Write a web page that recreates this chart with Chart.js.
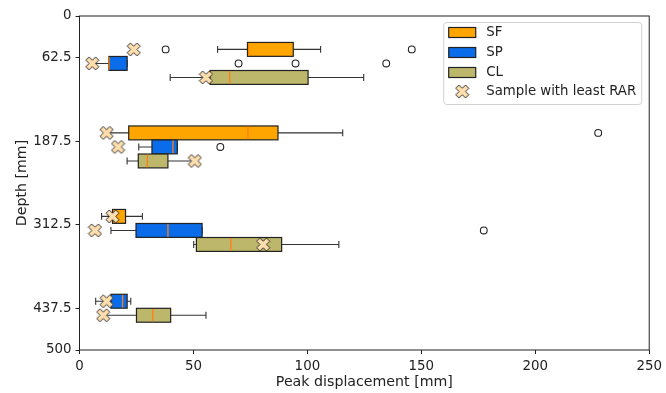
<!DOCTYPE html>
<html>
<head>
<meta charset="utf-8">
<script src="https://cdn.jsdelivr.net/npm/chart.js@4.4.0/dist/chart.umd.min.js"></script>
<style>
    html, body { margin: 0; padding: 0; background: #fff; }
    #wrap { width: 666px; height: 393px; }
</style>
</head>
<body>
<div id="wrap"><canvas id="chart" width="666" height="393"></canvas></div>
<script>
/* ============================================
   Peak displacement box plot
   ============================================ */

const depthTicks = [0, 62.5, 187.5, 312.5, 437.5, 500];
const seriesNames = ['SF', 'SP', 'CL'];
const leastLabel = 'Sample with least RAR';

// box centre depth [mm]
const sfDepth = [50, 175, 300];
const spDepth = [71, 196, 321, 427];
const clDepth = [92, 217, 342, 448];

// [lower whisker, q1, median, q3, upper whisker] in mm
const sfStats = [
    [60.6, 73.7, 74.2, 93.8, 105.8],
    [11.9, 21.6, 73.9, 87.1, 115.5],
    [9.7, 14.5, 16.0, 20.2, 27.6]
];
const spStats = [
    [5.6, 12.9, 13.0, 20.9, 20.9],
    [26.0, 31.8, 41.0, 42.9, 42.9],
    [13.8, 24.8, 38.8, 53.8, 53.8],
    [7.1, 13.8, 18.9, 20.9, 22.5]
];
const clStats = [
    [39.8, 57.3, 65.9, 100.3, 124.7],
    [20.9, 25.8, 29.8, 38.8, 50.6],
    [50.1, 51.3, 66.4, 88.7, 113.8],
    [10.4, 25.0, 32.2, 40.0, 55.5]
];

// fliers [displacement, depth]
const sfOutliers = [[37.8, 50], [145.8, 50], [227.6, 175]];
const spOutliers = [[69.8, 71], [94.8, 71], [134.6, 71], [61.8, 196], [177.4, 321]];

// sample with least RAR [displacement, depth]
const sfLeast = [[23.8, 50], [11.9, 175], [14.5, 300]];
const spLeast = [[5.6, 71], [16.9, 196], [6.8, 321], [11.9, 427]];
const clLeast = [[55.5, 92], [50.6, 217], [80.6, 342], [10.4, 448]];

const colors = { SF: '#FFA500', SP: '#0A6CE8', CL: '#BDB76B' };
const medianColor = '#FF7F0E';
const markerFill = '#FFDEAD';
const BOX_W = 20.8;
const FONT = "'DejaVu Sans', sans-serif";

const series = [
    { name: 'SF', depth: sfDepth, stats: sfStats },
    { name: 'SP', depth: spDepth, stats: spStats },
    { name: 'CL', depth: clDepth, stats: clStats }
];

const toPoints = arr => arr.map(p => ({ x: p[0], y: p[1] }));

// filled "X" marker like matplotlib
function makeCross(size) {
    const c = document.createElement('canvas');
    c.width = size + 2;
    c.height = size + 2;
    const g = c.getContext('2d');
    const pts = [[-1, -2], [0, -1], [1, -2], [2, -1], [1, 0], [2, 1],
                 [1, 2], [0, 1], [-1, 2], [-2, 1], [-1, 0], [-2, -1]];
    const cx = c.width / 2, cy = c.height / 2;
    g.beginPath();
    pts.forEach((p, i) => {
        const px = cx + p[0] / 4 * size, py = cy + p[1] / 4 * size;
        if (i === 0) g.moveTo(px, py); else g.lineTo(px, py);
    });
    g.closePath();
    g.fillStyle = markerFill;
    g.fill();
    g.strokeStyle = '#333';
    g.lineWidth = 1;
    g.stroke();
    return c;
}
const crossImg = makeCross(13);

const boxPlugin = {
    id: 'boxes',
    beforeDatasetsDraw(chart) {
        const { ctx, scales: { x, y } } = chart;
        ctx.save();
        series.forEach(s => {
            s.depth.forEach((d, i) => {
                const [lo, q1, med, q3, hi] = s.stats[i];
                const yt = y.getPixelForValue(d - BOX_W / 2);
                const yb = y.getPixelForValue(d + BOX_W / 2);
                const yc = y.getPixelForValue(d);
                const capT = y.getPixelForValue(d - BOX_W / 4);
                const capB = y.getPixelForValue(d + BOX_W / 4);
                const xl = x.getPixelForValue(lo), x1 = x.getPixelForValue(q1);
                const xm = x.getPixelForValue(med), x3 = x.getPixelForValue(q3);
                const xh = x.getPixelForValue(hi);

                // whiskers + caps
                ctx.strokeStyle = '#333';
                ctx.lineWidth = 1.1;
                ctx.beginPath();
                ctx.moveTo(xl, yc); ctx.lineTo(x1, yc);
                ctx.moveTo(x3, yc); ctx.lineTo(xh, yc);
                ctx.moveTo(xl, capT); ctx.lineTo(xl, capB);
                ctx.moveTo(xh, capT); ctx.lineTo(xh, capB);
                ctx.stroke();

                // box
                ctx.fillStyle = colors[s.name];
                ctx.fillRect(x1, yt, x3 - x1, yb - yt);
                ctx.strokeStyle = '#222';
                ctx.lineWidth = 1.2;
                ctx.strokeRect(x1, yt, x3 - x1, yb - yt);

                // median
                ctx.strokeStyle = medianColor;
                ctx.lineWidth = 1.3;
                ctx.beginPath();
                ctx.moveTo(xm, yt + 0.6); ctx.lineTo(xm, yb - 0.6);
                ctx.stroke();
            });
        });
        ctx.restore();
    },
    afterDraw(chart) {
        const { ctx, chartArea: a } = chart;
        ctx.save();
        // frame
        ctx.strokeStyle = '#222';
        ctx.lineWidth = 1;
        ctx.strokeRect(a.left, a.top, a.right - a.left, a.bottom - a.top);

        // legend
        const lx = a.right - 206, ly = a.top + 6, lw = 198, lh = 82;
        ctx.beginPath();
        ctx.roundRect(lx + 0.5, ly + 0.5, lw, lh, 3);
        ctx.fillStyle = 'rgba(255,255,255,0.85)';
        ctx.fill();
        ctx.strokeStyle = '#d0d0d0';
        ctx.stroke();

        ctx.font = '13.3px ' + FONT;
        ctx.textBaseline = 'middle';
        ctx.fillStyle = '#222';
        seriesNames.forEach((n, i) => {
            const cy = ly + 10.5 + i * 20;
            ctx.fillStyle = colors[n];
            ctx.fillRect(lx + 5.5, cy - 5, 27, 10);
            ctx.strokeStyle = '#222';
            ctx.lineWidth = 1.2;
            ctx.strokeRect(lx + 5.5, cy - 5, 27, 10);
            ctx.fillStyle = '#222';
            ctx.fillText(n, lx + 43, cy);
        });
        const cy = ly + 69.5;
        ctx.drawImage(crossImg, lx + 19 - crossImg.width / 2, cy - crossImg.height / 2);
        ctx.fillText(leastLabel, lx + 43, cy);
        ctx.restore();
    }
};

const tickFont = { family: FONT, size: 13.4 };

new Chart(document.getElementById('chart'), {
    type: 'scatter',
    data: {
        datasets: [
            {
                label: 'outliers',
                data: toPoints(sfOutliers.concat(spOutliers)),
                pointStyle: 'circle',
                pointRadius: 3.4,
                backgroundColor: 'rgba(255,255,255,0)',
                borderColor: '#222',
                borderWidth: 1.1
            },
            {
                label: leastLabel,
                data: toPoints(sfLeast.concat(spLeast, clLeast)),
                pointStyle: crossImg,
                pointRadius: 6
            }
        ]
    },
    options: {
        responsive: false,
        animation: false,
        events: [],
        layout: { padding: { top: 16, right: 12, left: 0, bottom: 0 } },
        plugins: {
            legend: { display: false },
            tooltip: { enabled: false }
        },
        scales: {
            x: {
                type: 'linear',
                min: 0,
                max: 250,
                ticks: { stepSize: 50, color: '#222', font: tickFont, padding: 4 },
                grid: { drawOnChartArea: false, tickLength: 4, color: '#222' },
                border: { display: false },
                title: {
                    display: true,
                    text: 'Peak displacement [mm]',
                    color: '#222',
                    font: { family: FONT, size: 14.2 },
                    padding: { top: 0, bottom: 2 }
                },
                afterFit: s => { s.height = 43; }
            },
            y: {
                type: 'linear',
                min: 0,
                max: 500,
                reverse: true,
                afterBuildTicks: s => { s.ticks = depthTicks.map(v => ({ value: v })); },
                ticks: { color: '#222', font: tickFont, padding: 4, callback: v => String(v) },
                grid: { drawOnChartArea: false, tickLength: 4, color: '#222' },
                border: { display: false },
                title: {
                    display: true,
                    text: 'Depth [mm]',
                    color: '#222',
                    font: { family: FONT, size: 14.2 },
                    padding: { top: 14, bottom: 0 }
                },
                afterFit: s => { s.width = 79.5; }
            }
        }
    },
    plugins: [boxPlugin]
});
</script>
</body>
</html>
